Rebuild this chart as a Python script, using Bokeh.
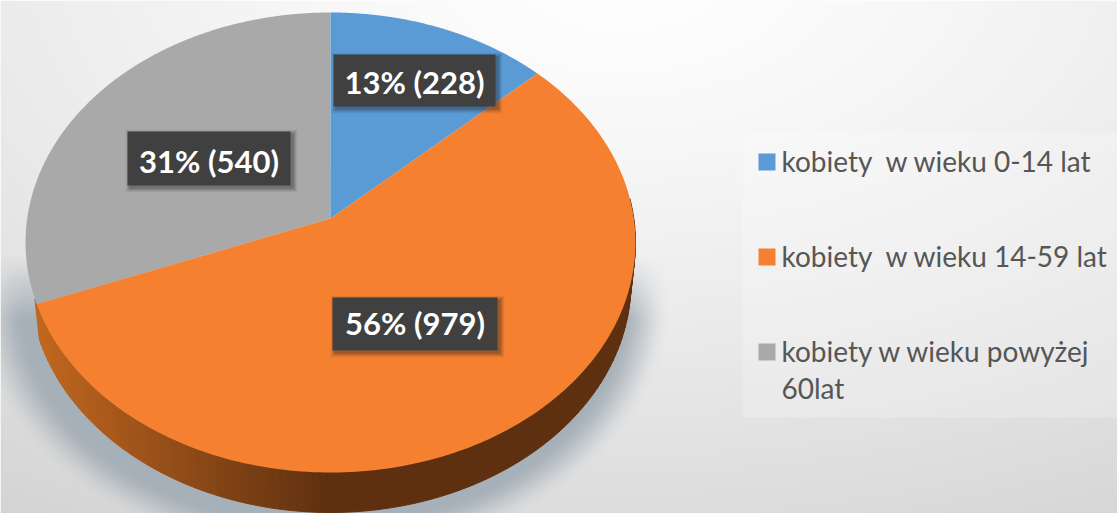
import numpy as np
from bokeh.plotting import figure
from bokeh.core.properties import value
from bokeh.embed import file_html
from bokeh.resources import INLINE

categories = ["kobiety  w wieku 0-14 lat", "kobiety  w wieku 14-59 lat", "kobiety w wieku powyżej\n60lat"]
values = [228, 979, 540]
percents = [13, 56, 31]
colors = ["#5b9bd5", "#f48030", "#a9a9a9"]

W, H = 1117, 513
OX, OY = 0, 0
p = figure(width=W, height=H, x_range=(OX, OX + W), y_range=(OY + H, OY),
           output_backend="svg", toolbar_location=None, min_border=0)
p.axis.visible = False
p.grid.visible = False
p.outline_line_color = None
p.background_fill_color = None
p.border_fill_color = None

# perspective projection of the pie
CX, CY, A, B, C, DEPTH = 330.0, 218.0, 227.5, 303.3, 0.1043, 40.0


def proj(theta):
    u, v = np.sin(theta), np.cos(theta)
    d = 1 + C * v
    return CX + B * u / d, CY - A * v / d


# background with gradient and soft shadow
yy, xx = np.mgrid[0:H, 0:W]
xx = xx + OX + 0.5
yy = yy + OY + 0.5
g = np.sqrt(((xx - 620) / 1000) ** 2 + ((yy + 30) / 560) ** 2)
base = 255 - 36 * np.clip(g, 0, 1.3) ** 1.3
f = np.sqrt(((xx - 322) / 330) ** 2 + ((yy - 300) / 245) ** 2)
sh = np.clip((1.06 - f) / 0.16, 0, 1)
sh = sh * sh * (3 - 2 * sh) * np.clip((yy - 255) / 65, 0, 1)
r = base * (1 - sh) + 166 * sh
gc = base * (1 - sh) + 176 * sh
b = base * (1 - sh) + 184 * sh
img = np.zeros((H, W), dtype=np.uint32)
view = img.view(dtype=np.uint8).reshape((H, W, 4))
view[..., 0] = r.astype(np.uint8)
view[..., 1] = gc.astype(np.uint8)
view[..., 2] = b.astype(np.uint8)
view[..., 3] = 255
p.image_rgba(image=[img], x=OX, y=OY, dw=W, dh=H)

# slices
total = sum(values)
edges = np.cumsum([0] + values) / total * 2 * np.pi

# side wall of the orange slice
wall_t = np.linspace(np.radians(85), np.radians(250), 120)
wx, wy, wc = [], [], []
for t0, t1 in zip(wall_t[:-1], wall_t[1:]):
    x0, y0 = proj(t0)
    x1, y1 = proj(t1)
    bx0, bx1 = CX + (x0 - CX) * 0.985, CX + (x1 - CX) * 0.985
    wx.append([x0, x1, bx1, bx0])
    wy.append([y0, y1, y1 + DEPTH, y0 + DEPTH])
    k = np.clip((330 - (x0 + x1) / 2) / 290, 0, 1)
    c = (np.array([94, 48, 16]) + k * (np.array([192, 102, 31]) - np.array([94, 48, 16]))).astype(int)
    wc.append("#%02x%02x%02x" % tuple(c))
p.patches(wx, wy, fill_color=wc, line_color=wc, line_width=1)

for i in [2, 0, 1]:
    t = np.linspace(edges[i], edges[i + 1], 200)
    x, y = proj(t)
    p.patch(np.r_[CX, x], np.r_[CY, y], fill_color=colors[i], line_color=None)

# data labels
label_boxes = [(333, 495, 54, 106, 1), (332, 497, 297, 350, -1), (127, 290, 131, 185, 2)]
for i, (l, rr, t, bt, dy) in enumerate(label_boxes):
    for off, al in [(7, 0.05), (6, 0.07), (5, 0.1), (4, 0.12), (3, 0.15)]:
        p.quad(left=l + 4 - off + 1, right=rr + off, top=t + 4 - off + 1, bottom=bt + off,
               fill_color="#222222", fill_alpha=al, line_color=None)
    p.quad(left=l, right=rr, top=t, bottom=bt, fill_color="#404040", line_color=None)
    p.text(x=[(l + rr) / 2], y=[(t + bt) / 2 + dy], text=[f"{percents[i]}% ({values[i]})"],
           text_color="#ffffff", text_font=value("Lato"), text_font_style="bold",
           text_font_size="31px", text_align="center", text_baseline="middle")

# legend
p.quad(left=742, right=OX + W, top=132, bottom=417, fill_color="#ffffff", fill_alpha=0.22, line_color=None)
leg_y = [161.5, 256.5, 351.5]
for i, cy in enumerate(leg_y):
    p.quad(left=758, right=775, top=cy - 8.5, bottom=cy + 8.5, fill_color=colors[i], line_color=None)
    for j, line in enumerate(categories[i].split("\n")):
        p.text(x=[781], y=[cy - 1 + j * 37], text=[line.replace("  ", "\u00a0 ")], text_color="#565656",
               text_font=value("Lato"), text_font_size="28px", text_align="left", text_baseline="middle")

open("out.html", "w").write(file_html(p, INLINE))
